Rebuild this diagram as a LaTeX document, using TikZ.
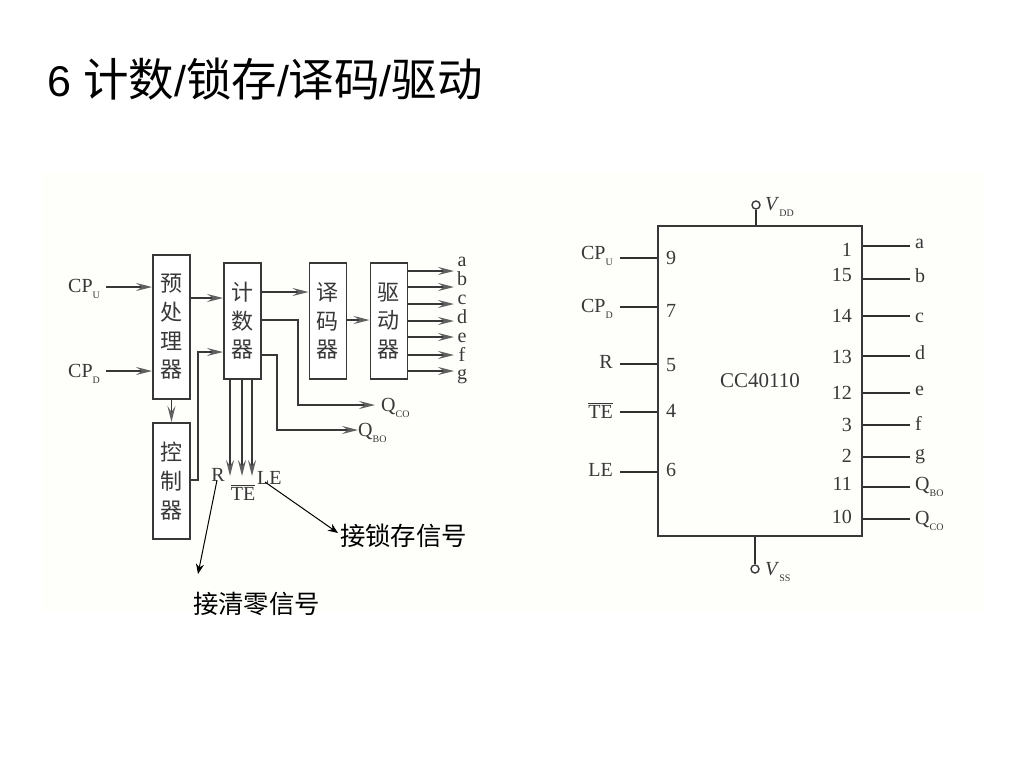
\documentclass[tikz,border=0pt]{standalone}
\usepackage{fontspec}
\setmainfont{Liberation Serif}
\newfontfamily\cjk{Noto Sans CJK SC}
\newfontfamily\arialf{Liberation Sans}
\usetikzlibrary{arrows.meta}
\definecolor{ink}{HTML}{383838}
\definecolor{paper}{HTML}{FEFEFB}
\newcommand{\subs}[1]{\raisebox{-0.3em}{\fontsize{10}{10}\selectfont #1}}
\newcommand{\fsz}[1]{\fontsize{#1}{#1}\selectfont}
\newcommand{\ttl}[1]{{\cjk\fsz{45.5}#1}}
\newcommand{\tts}[1]{{\arialf\fsz{43}#1}}
\tikzset{
  blockbox/.style={draw=ink,line width=1.9pt,fill=white,minimum width=37pt,inner sep=0pt,text=ink,align=center,font=\cjk\fontsize{22}{28.7}\selectfont},
  flowarrow/.style={draw=ink,line width=1.5pt,-{Stealth[length=16pt,width=8pt,inset=6pt,color=ink!80]}},
  pointer/.style={draw=black,line width=1pt,-{Stealth[length=10pt,width=8pt,color=black]}},
  pinline/.style={draw=ink!85!black,line width=1.5pt},
  lab/.style={text=ink,inner sep=0pt,font=\fsz{20}},
  pinlab/.style={text=ink,inner sep=0pt,font=\fsz{20}},
  pinnum/.style={text=ink,inner sep=0pt,font=\fsz{20}},
  note/.style={text=black,inner sep=0pt,font=\cjk\fsz{25.4}},
  term/.style={circle,draw=ink,line width=1.4pt,fill=white,minimum size=8pt,inner sep=0pt}
}
\begin{document}
\begin{tikzpicture}[x=1pt,y=-1pt]
\useasboundingbox (0,0) rectangle (1024,768);
\fill[white] (0,0) rectangle (1024,768);
\fill[paper] (42,172) rectangle (985,612);
% title
\node[anchor=base west,inner sep=0pt] (title) at (47,96) {\tts{6 }\ttl{计数}\tts{/}\ttl{锁存}\tts{/}\ttl{译码}\tts{/}\ttl{驱动}};
% blocks
\node[blockbox,anchor=north west,minimum height=144pt] (pre) at (152,254) {预\\处\\理\\器};
\node[blockbox,anchor=north west,minimum height=116pt] (cnt) at (223,262) {计\\数\\器};
\node[blockbox,anchor=north west,minimum height=116pt] (dec) at (308.5,262) {译\\码\\器};
\node[blockbox,anchor=north west,minimum height=116pt] (drv) at (369.5,262) {驱\\动\\器};
\node[blockbox,anchor=north west,minimum height=116pt] (ctl) at (152,422) {控\\制\\器};
% left labels
\node[lab,anchor=base west] (cpu) at (68,292) {CP\subs{U}};
\node[lab,anchor=base west] (cpd) at (68,377) {CP\subs{D}};
\draw[flowarrow] (cpu.base east)+(6,-5) -- (pre.west |- 0,287);
\draw[flowarrow] (cpd.base east)+(6,-6) -- (pre.west |- 0,371);
\draw[flowarrow] (pre.east |- 0,298) -- (cnt.west |- 0,298);
\draw[flowarrow] (pre.south) -- (ctl.north);
\draw[flowarrow] (ctl.east |- 0,480) -- (198,480) -- (198,352) -- (cnt.west |- 0,352);
\draw[flowarrow] (cnt.east |- 0,292) -- (dec.west |- 0,292);
\draw[flowarrow] (dec.east |- 0,320) -- (drv.west |- 0,320);
% outputs of the driver
\foreach \nm/\yy/\ly in {a/271/266,b/287/285,c/304/304,d/321/323,e/337/342,f/355/361,g/371/379}{
  \node[lab,anchor=base,font=\fsz{20}] (o\nm) at (462,\ly) {\nm};
  \coordinate (e\nm) at (454,\yy);
  \draw[flowarrow] (drv.east |- 0,\yy) -- (e\nm);
}
% Q outputs
\node[lab,anchor=base west] (qco) at (381,411) {Q\subs{CO}};
\node[lab,anchor=base west] (qbo) at (358,436) {Q\subs{BO}};
\draw[flowarrow] (cnt.east |- 0,320) -- (298,320) -- (298,405) -- (375,405);
\draw[flowarrow] (cnt.east |- 0,355) -- (277,355) -- (277,430) -- (qbo.west |- 0,430);
% control labels
\node[lab,anchor=base] (rl) at (218,481) {R};
\node[lab,anchor=base] (tel) at (243,500) {$\overline{\mbox{TE}}$};
\node[lab,anchor=base west] (lel) at (257,484) {LE};
\coordinate (rt) at (230,476);
\coordinate (tt) at (242,476);
\coordinate (lt) at (252,476);
\draw[flowarrow] (cnt.south -| rt) -- (rt);
\draw[flowarrow] (cnt.south -| tt) -- (tt);
\draw[flowarrow] (cnt.south -| lt) -- (lt);
% notes
\node[note] (nlatch) at (403.5,536) {接锁存信号};
\node[note] (nclear) at (256.5,604) {接清零信号};
\coordinate (ltip) at (338,533);
\coordinate (rtip) at (198,574);
\draw[pointer] (265,482) -- (ltip);
\draw[pointer] (rl.south) ++(-1,-1) -- (rtip);
% chip
\node[draw=ink,line width=2pt,fill=paper,anchor=north west,minimum width=204pt,minimum height=310pt,inner sep=0pt] (chip) at (657,225) {};
\node[text=ink,font=\fsz{21},inner sep=0pt] (cname) at (760,381) {CC40110};
% left pins
\foreach \id/\yy/\ty/\nn/\ny/\txt in {a/258/259/9/258/{CP\subs{U}},b/307/312/7/311/{CP\subs{D}},c/364/368/5/365/{R},d/412/418/4/411/{$\overline{\mbox{TE}}$},e/472/476/6/470/{LE}}{
  \node[pinlab,anchor=base east] (lp\id) at (613,\ty) {\txt};
  \node[pinnum,anchor=center] (ln\id) at (671,\ny) {\nn};
  \coordinate (lc\id) at (620,\yy);
  \draw[pinline] (chip.west |- lc\id) -- (lc\id);
}
% right pins
\foreach \id/\yy/\ty/\nn/\ny/\txt in {a/246/248/1/250/a,b/279/282/15/275/b,c/316/322/14/316/c,d/356/359/13/357/d,e/393/395/12/393/e,f/425/430/3/425/f,g/457/459/2/456/g,h/487/490/11/484/{Q\subs{BO}},i/519/524/10/517/{Q\subs{CO}}}{
  \node[pinlab,anchor=base west] (rp\id) at (915,\ty) {\txt};
  \node[pinnum,anchor=east] (rn\id) at (852,\ny) {\nn};
  \coordinate (rc\id) at (910,\yy);
  \draw[pinline] (chip.east |- rc\id) -- (rc\id);
}
% power
\node[term] (vdd) at (756,205) {};
\node[term] (vss) at (755,569) {};
\draw[pinline] (vdd.south) -- (vdd.south |- chip.north);
\draw[pinline] (vss.north) -- (vss.north |- chip.south);
\node[pinlab,anchor=base west] (vddl) at (765,210) {\textit{V}\subs{DD}};
\node[pinlab,anchor=base west] (vssl) at (765,575) {\textit{V}\subs{SS}};
\end{tikzpicture}
\end{document}
